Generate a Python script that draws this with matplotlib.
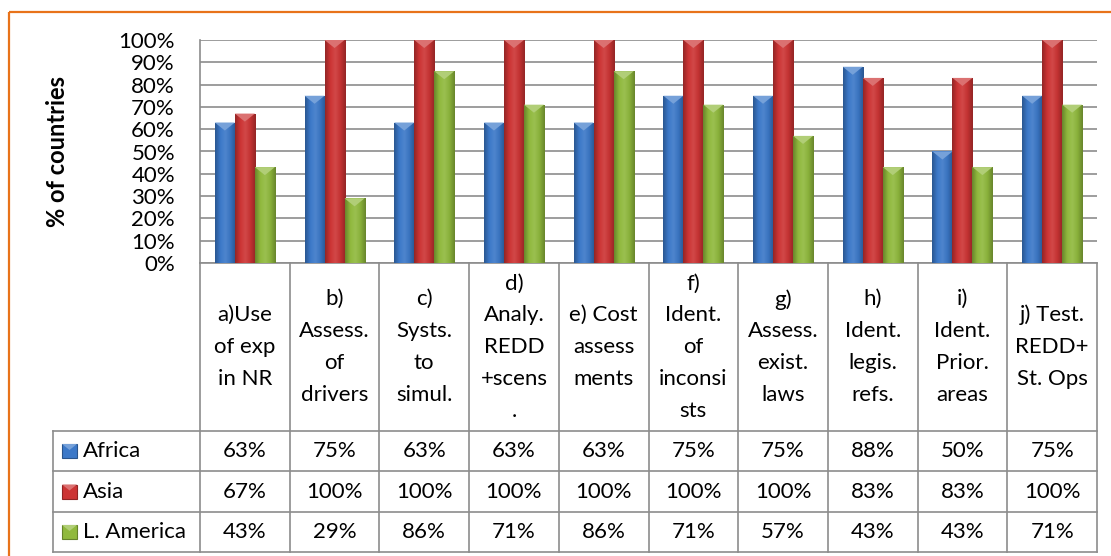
import numpy as np
import matplotlib
matplotlib.use("Agg")
import matplotlib.pyplot as plt
from matplotlib.colors import LinearSegmentedColormap, to_rgb
from matplotlib.patches import Polygon, Rectangle

# ---------------- data ----------------
categories = [
    ["a)Use", "of exp", "in NR"],
    ["b)", "Assess.", "of", "drivers"],
    ["c)", "Systs.", "to", "simul."],
    ["d)", "Analy.", "REDD", "+scens", "."],
    ["e) Cost", "assess", "ments"],
    ["f)", "Ident.", "of", "inconsi", "sts"],
    ["g)", "Assess.", "exist.", "laws"],
    ["h)", "Ident.", "legis.", "refs."],
    ["i)", "Ident.", "Prior.", "areas"],
    ["j) Test.", "REDD+", "St. Ops"],
]
series_names = ["Africa", "Asia", "L. America"]
africa = [63, 75, 63, 63, 63, 75, 75, 88, 50, 75]
asia = [67, 100, 100, 100, 100, 100, 100, 83, 83, 100]
lamerica = [43, 29, 86, 71, 86, 71, 57, 43, 43, 71]
series_values = [africa, asia, lamerica]
y_ticks = [0, 10, 20, 30, 40, 50, 60, 70, 80, 90, 100]
y_label = "% of countries"

# ---------------- style ----------------
base_colors = ["#3b78c8", "#cc3434", "#90b93d"]
FONT = "Lato"
FS = 16
GRID = "#8c8c8c"
W, H = 1111, 556

fig = plt.figure(figsize=(W / 100, H / 100), dpi=100)
fig.patch.set_facecolor("white")

# overlay axes in pixel coordinates (for table/frame)
ov = fig.add_axes([0, 0, 1, 1])
ov.set_xlim(0, W)
ov.set_ylim(H, 0)
ov.axis("off")

# main chart axes
L, R, T, B = 200, 1097, 40, 263
ax = fig.add_axes([L / W, 1 - B / H, (R - L) / W, (B - T) / H])
ax.set_xlim(-0.5, len(categories) - 0.5)
ax.set_ylim(0, 100)
ax.set_yticks(y_ticks)
ax.set_yticklabels([f"{v}%" for v in y_ticks], fontfamily=FONT, fontsize=FS)
ax.tick_params(axis="y", length=0, pad=18)
ax.set_xticks([])
for s in ["top", "right", "bottom"]:
    ax.spines[s].set_visible(False)
ax.spines["left"].set_color(GRID)
ax.spines["left"].set_linewidth(1.2)
ax.yaxis.grid(True, color=GRID, linewidth=1.2)
ax.set_axisbelow(True)
ax.set_facecolor("none")


def shade(c, f):
    r = np.array(to_rgb(c))
    if f < 1:
        return tuple(r * f)
    return tuple(r + (1 - r) * (f - 1))


bw = 0.223
x = np.arange(len(categories))
for k, (vals, col) in enumerate(zip(series_values, base_colors)):
    offs = (k - 1) * bw
    bars = ax.bar(x + offs, vals, width=bw, color=col, edgecolor="none", zorder=3)
    cmap = LinearSegmentedColormap.from_list(
        "g", [shade(col, 0.72), shade(col, 1.0), shade(col, 1.1), shade(col, 0.95), shade(col, 0.72)])
    grad = np.linspace(0, 1, 64).reshape(1, -1)
    for b in bars:
        x0, w, h = b.get_x(), b.get_width(), b.get_height()
        im = ax.imshow(grad, cmap=cmap, extent=[x0, x0 + w, 0, h], aspect="auto", zorder=4,
                       interpolation="bicubic")
        im.set_clip_path(b)
        tri = Polygon([[x0, h], [x0 + w, h], [x0 + w / 2, h - 3.6]], closed=True,
                      facecolor=shade(col, 1.3), edgecolor="none", zorder=5)
        ax.add_patch(tri)
ax.set_xlim(-0.5, len(categories) - 0.5)
ax.set_ylim(0, 100)

ax.set_ylabel(y_label, fontfamily=FONT, fontsize=17, fontweight="bold")
ax.yaxis.set_label_coords(-(L - 69) / (R - L), 0.5)

# ---------------- orange frame ----------------
ov.plot([9, 9], [12, H + 5], color="#e8731a", lw=1.6, solid_capstyle="butt")
ov.plot([9, W + 5], [12, 12], color="#e8731a", lw=1.6, solid_capstyle="butt")

# ---------------- data table ----------------
n = len(categories)
cw = (R - L) / n
row_tops = [B, 431, 471, 512, 552]
LEG_L = 53
lc = GRID
lw = 1.2
for i in range(n + 1):
    xx = L + i * cw
    ov.plot([xx, xx], [B, row_tops[-1]], color=lc, lw=lw)
ov.plot([LEG_L, LEG_L], [row_tops[1], row_tops[-1]], color=lc, lw=lw)
ov.plot([L, R], [B, B], color=lc, lw=lw)
for yy in row_tops[1:]:
    ov.plot([LEG_L, R], [yy, yy], color=lc, lw=lw)

# header text
hc = (row_tops[0] + row_tops[1]) / 2
ls = 31.8
for i, lines in enumerate(categories):
    cx = L + (i + 0.5) * cw
    m = len(lines)
    for j, t in enumerate(lines):
        yy = hc + (j - (m - 1) / 2) * ls
        ov.text(cx, yy, t, ha="center", va="center", fontfamily=FONT, fontsize=FS, color="black")

# value rows
for r, (name, vals, col) in enumerate(zip(series_names, series_values, base_colors)):
    yc = (row_tops[r + 1] + row_tops[r + 2]) / 2
    for i, v in enumerate(vals):
        cx = L + (i + 0.5) * cw
        ov.text(cx, yc, f"{v}%", ha="center", va="center", fontfamily=FONT, fontsize=FS)
    ov.add_patch(Rectangle((62, yc - 7), 15, 14, facecolor=col, edgecolor=shade(col, 0.7), lw=0.8))
    ov.add_patch(Polygon([[62, yc - 7], [77, yc - 7], [69.5, yc - 1]], closed=True,
                         facecolor=shade(col, 1.3), edgecolor="none"))
    ov.text(83, yc, name, ha="left", va="center", fontfamily=FONT, fontsize=FS)

fig.savefig("out.png", dpi=100, facecolor="white")
